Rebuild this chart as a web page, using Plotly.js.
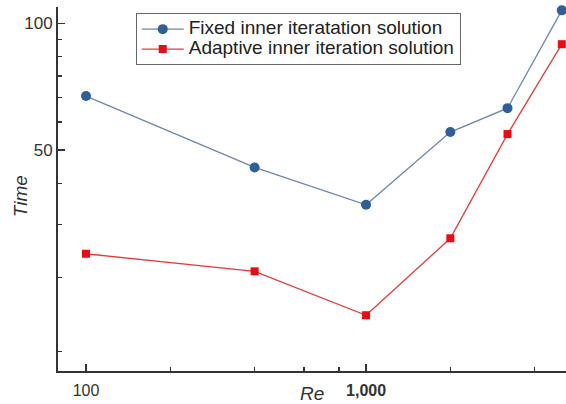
<!DOCTYPE html>
<html>
<head>
<meta charset="utf-8">
<script src="https://cdn.plot.ly/plotly-3.0.1.min.js"></script>
<style>html,body{margin:0;padding:0;background:#fff;}#chart{width:566px;height:404px;}</style>
</head>
<body>
<div id="chart"></div>
<script>
// Data
const reynolds = [100, 400, 1000, 2000, 3200, 5000];
const fixedTime = [67.2, 45.5, 37.1, 55.2, 62.9, 107.3];
const adaptiveTime = [28.4, 25.8, 20.3, 30.9, 54.6, 89.2];
const seriesNames = ["Fixed inner iteratation solution", "Adaptive inner iteration solution"];
const xTickVals = [100, 1000];
const xTickText = ["100", "<b>1,000</b>"];
const xMinorVals = [200, 400, 600, 800, 2000, 4000];
const yTickVals = [50, 100];
const yTickText = ["50", "100"];
const yMinorVals = [16.667, 25, 33.333, 41.667, 58.333, 66.667, 75, 83.333, 91.667];

const legendLabel = s => '<span style="font-size:19px">' + s + '</span>';

const traces = [
  {
    x: reynolds, y: fixedTime, name: legendLabel(seriesNames[0]),
    type: "scatter", mode: "lines+markers", cliponaxis: false,
    line: {color: "#6d86a8", width: 1.3},
    marker: {symbol: "circle", size: 10, color: "#2f5f98"}
  },
  {
    x: reynolds, y: adaptiveTime, name: legendLabel(seriesNames[1]),
    type: "scatter", mode: "lines+markers", cliponaxis: false,
    line: {color: "#e83a3a", width: 1.3},
    marker: {symbol: "square", size: 8, color: "#ee0a12"}
  }
];

const FONT = "Liberation Sans, Arial, sans-serif";

const layout = {
  width: 566, height: 404,
  margin: {l: 58, r: 0, t: 7, b: 33},
  paper_bgcolor: "#fff", plot_bgcolor: "#fff",
  showlegend: true,
  legend: {
    x: 0.153, y: 0.983, xanchor: "left", yanchor: "top",
    bordercolor: "#666", borderwidth: 1, bgcolor: "#fff",
    font: {family: FONT, size: 13, color: "#222"},
    itemwidth: 42,
    tracegroupgap: 0
  },
  xaxis: {
    type: "log",
    range: [1.9, 3.714],
    tickmode: "array", tickvals: xTickVals, ticktext: xTickText,
    ticks: "inside", ticklen: 7, tickwidth: 1.5, tickcolor: "#333",
    ticklabelstandoff: 4,
    minor: {tickmode: "array", tickvals: xMinorVals, ticks: "inside", ticklen: 4, tickwidth: 1.2, tickcolor: "#333", showgrid: false},
    showline: true, linecolor: "#333", linewidth: 2,
    showgrid: false, zeroline: false,
    tickfont: {family: FONT, size: 16, color: "#333"}
  },
  yaxis: {
    type: "log",
    range: [1.1752, 2.0386],
    tickmode: "array", tickvals: yTickVals, ticktext: yTickText,
    ticks: "inside", ticklen: 7, tickwidth: 1.5, tickcolor: "#333",
    minor: {tickmode: "array", tickvals: yMinorVals, ticks: "inside", ticklen: 4, tickwidth: 1.2, tickcolor: "#333", showgrid: false},
    showline: true, linecolor: "#333", linewidth: 2,
    showgrid: false, zeroline: false,
    tickfont: {family: FONT, size: 17, color: "#333"}
  },
  annotations: [
    {
      text: "<i>Re</i>", xref: "paper", yref: "paper", x: 0.5, y: -0.063,
      xanchor: "center", yanchor: "middle", showarrow: false,
      font: {family: FONT, size: 19, color: "#333"}
    },
    {
      text: "<i>Time</i>", xref: "paper", yref: "paper", x: -0.075, y: 0.48,
      xanchor: "center", yanchor: "middle", showarrow: false, textangle: -90,
      font: {family: FONT, size: 19, color: "#333"}
    }
  ]
};

Plotly.newPlot("chart", traces, layout, {staticPlot: true, displayModeBar: false});
</script>
</body>
</html>
